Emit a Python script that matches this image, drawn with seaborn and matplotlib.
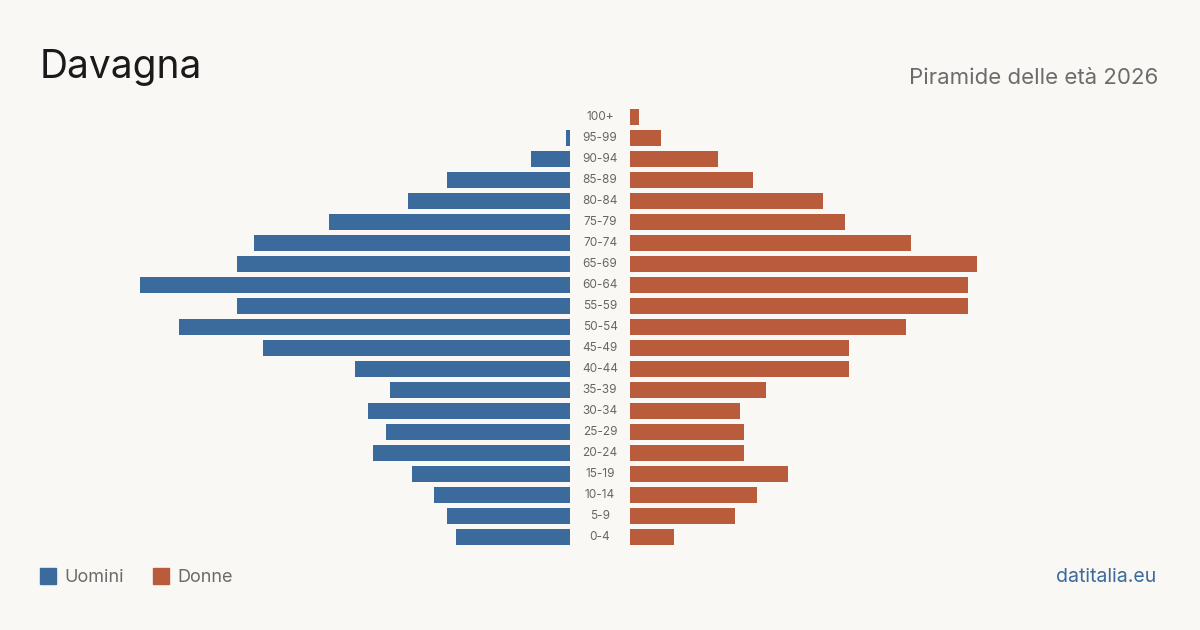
import numpy as np
import pandas as pd
import matplotlib
matplotlib.use('Agg')
import matplotlib.pyplot as plt
import seaborn as sns

# Dati: popolazione per classe di età
classi = ['100+', '95-99', '90-94', '85-89', '80-84', '75-79', '70-74', '65-69',
          '60-64', '55-59', '50-54', '45-49', '40-44', '35-39', '30-34', '25-29',
          '20-24', '15-19', '10-14', '5-9', '0-4']
uomini = [0, 1, 9, 28, 37, 55, 72, 76, 98, 76, 89, 70, 49, 41, 46, 42, 45, 36, 31, 28, 26]
donne = [2, 7, 20, 28, 44, 49, 64, 79, 77, 77, 63, 50, 50, 31, 25, 26, 26, 36, 29, 24, 10]

BG = '#f9f8f4'
BLU = '#3b6b9c'
ROSSO = '#b95c3c'

sns.set_theme(style='white')
plt.rcParams['font.family'] = ['Inter', 'DejaVu Sans']

df = pd.DataFrame({'classe': classi, 'Uomini': uomini, 'Donne': donne})
vmax = max(max(uomini), max(donne))

fig = plt.figure(figsize=(12, 6.3), dpi=100, facecolor=BG)
ax_u = fig.add_axes([140 / 1200, 1 - 547.5 / 630, 430 / 1200, 441 / 630])
ax_d = fig.add_axes([630 / 1200, 1 - 547.5 / 630, 430 / 1200, 441 / 630])

sns.barplot(data=df, y='classe', x='Uomini', color=BLU, ax=ax_u, width=0.8,
            saturation=1, orient='h', linewidth=0)
sns.barplot(data=df, y='classe', x='Donne', color=ROSSO, ax=ax_d, width=0.8,
            saturation=1, orient='h', linewidth=0)

ax_u.set_xlim(vmax, 0)
ax_d.set_xlim(0, vmax)
for ax in (ax_u, ax_d):
    ax.set_facecolor(BG)
    ax.set_ylim(len(classi) - 0.5, -0.5)
    ax.set_xlabel('')
    ax.set_ylabel('')
    ax.set_xticks([])
    ax.set_yticks([])
    for s in ax.spines.values():
        s.set_visible(False)

# etichette classi al centro
for i, c in enumerate(classi):
    ax_d.text(-30 / 430 * vmax, i, c, ha='center', va='center', fontsize=8.5,
              color='#666666', clip_on=False)

fig.text(40 / 1200, 1 - 68 / 630, 'Davagna', fontsize=28, color='#1a1a1a',
         ha='left', va='center')
fig.text(1158 / 1200, 1 - 78 / 630, 'Piramide delle età 2026', fontsize=16,
         color='#6b6b6b', ha='right', va='center')

# legenda
fig.patches.append(plt.Rectangle((40 / 1200, 1 - 584 / 630), 16 / 1200, 16 / 630,
                                 transform=fig.transFigure, color=BLU))
fig.text(64 / 1200, 1 - 577 / 630, 'Uomini', fontsize=13, color='#6b6b6b',
         ha='left', va='center')
fig.patches.append(plt.Rectangle((153 / 1200, 1 - 584 / 630), 16 / 1200, 16 / 630,
                                 transform=fig.transFigure, color=ROSSO))
fig.text(177 / 1200, 1 - 577 / 630, 'Donne', fontsize=13, color='#6b6b6b',
         ha='left', va='center')

fig.text(1156 / 1200, 1 - 577 / 630, 'datitalia.eu', fontsize=14, color=BLU,
         ha='right', va='center')

fig.savefig('out.png', dpi=100, facecolor=BG)
